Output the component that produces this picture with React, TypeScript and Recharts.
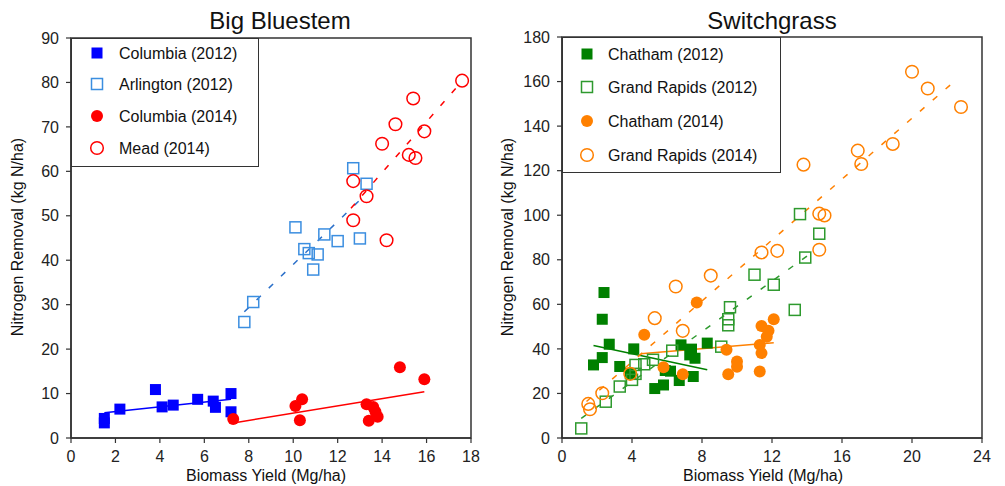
import React from "react";
import {
  ScatterChart,
  Scatter,
  XAxis,
  YAxis,
  ReferenceLine,
  ReferenceArea,
} from "recharts";

// ---------- Big Bluestem ----------
const columbia2012X = [1.5, 1.5, 2.2, 3.8, 4.1, 4.6, 5.7, 6.4, 6.5, 7.2, 7.2];
const columbia2012Y = [4.4, 3.4, 6.5, 10.9, 7.0, 7.4, 8.7, 8.3, 6.9, 10.0, 5.9];
const arlington2012X = [7.8, 8.2, 10.1, 10.5, 10.7, 11.1, 10.9, 11.4, 12.0, 13.0, 12.7, 13.3];
const arlington2012Y = [26.1, 30.6, 47.4, 42.5, 41.6, 41.3, 37.9, 45.8, 44.3, 44.9, 60.7, 57.2];
const columbia2014X = [7.3, 10.1, 10.4, 10.3, 13.3, 13.6, 13.7, 13.8, 13.4, 14.8, 15.9];
const columbia2014Y = [4.3, 7.2, 8.7, 4.0, 7.6, 7.0, 5.9, 4.8, 3.9, 15.9, 13.2];
const mead2014X = [17.6, 15.4, 14.6, 15.9, 14.0, 15.2, 15.5, 12.7, 13.3, 12.7, 14.2];
const mead2014Y = [80.4, 76.4, 70.6, 69.0, 66.2, 63.7, 63.0, 57.8, 54.4, 49.0, 44.5];

// trend line endpoints [x1, y1, x2, y2]
const columbia2012Trend = [1.5, 5.7, 7.2, 8.7];
const arlington2012Trend = [7.8, 28.4, 13.3, 55.0];
const columbia2014Trend = [7.3, 3.4, 15.9, 10.4];
const mead2014Trend = [12.6, 51.7, 17.6, 80.3];

const bbXTicks = [0, 2, 4, 6, 8, 10, 12, 14, 16, 18];
const bbYTicks = [0, 10, 20, 30, 40, 50, 60, 70, 80, 90];

// ---------- Switchgrass ----------
const chatham2012X = [2.4, 2.3, 2.7, 2.3, 1.8, 3.3, 4.1, 3.9, 5.9, 6.2, 6.7, 6.8, 7.4, 7.3, 7.6, 7.5, 5.3, 5.8, 8.3];
const chatham2012Y = [65.3, 53.3, 42.1, 36.1, 32.8, 32.1, 40.0, 28.8, 30.3, 30.0, 25.8, 41.8, 39.9, 37.3, 35.8, 27.6, 22.2, 23.8, 42.6];
const grandRapids2012X = [1.1, 2.5, 3.3, 4.0, 4.2, 4.2, 4.7, 5.2, 6.3, 9.1, 9.5, 9.5, 9.6, 11.0, 12.1, 13.3, 13.9, 14.7, 13.6];
const grandRapids2012Y = [4.3, 16.3, 23.1, 26.1, 28.8, 32.8, 33.1, 35.1, 39.2, 41.0, 50.6, 53.3, 58.7, 73.3, 68.8, 57.5, 81.0, 91.7, 100.5];
const chatham2014X = [4.7, 5.8, 6.9, 7.7, 9.4, 9.5, 10.0, 10.0, 12.1, 11.4, 11.8, 11.7, 11.3, 11.4, 11.3];
const chatham2014Y = [46.3, 31.8, 28.6, 60.8, 39.6, 28.6, 34.3, 32.0, 53.3, 50.3, 48.1, 45.5, 41.8, 38.1, 29.8];
const grandRapids2014X = [1.5, 1.6, 2.3, 3.9, 5.3, 6.5, 6.9, 8.5, 11.4, 12.3, 14.7, 13.8, 14.7, 15.0, 16.9, 17.1, 18.9, 20.0, 20.9, 22.8];
const grandRapids2014Y = [15.3, 12.9, 20.1, 28.8, 53.8, 68.0, 48.1, 72.9, 83.3, 84.0, 84.5, 122.7, 100.7, 99.9, 129.0, 123.0, 132.0, 164.4, 156.9, 148.6];

const chatham2012Trend = [1.8, 41.5, 8.3, 30.6];
const grandRapids2012Trend = [1.1, 8.8, 14.5, 84.5];
const chatham2014Trend = [4.5, 37.8, 12.1, 42.8];
const grandRapids2014Trend = [1.4, 16.4, 22.6, 161.3];

const sgXTicks = [0, 4, 8, 12, 16, 20, 24];
const sgYTicks = [0, 20, 40, 60, 80, 100, 120, 140, 160, 180];

const toPts = (xs: number[], ys: number[]) => xs.map((x, i) => ({ x, y: ys[i] }));

const BLUE = "#0000ff";
const LIGHTBLUE = "#3b8ee0";
const RED = "#ff0000";
const GREEN = "#008000";
const LIGHTGREEN = "#2e9a2e";
const ORANGE = "#ff8000";
const AXIS = "#333";
const FONT = "'Liberation Sans', Arial, Helvetica, sans-serif";

type Kind = "fsq" | "osq" | "fci" | "oci";

const Marker = ({ kind, color, cx, cy }: { kind: Kind; color: string; cx: number; cy: number }) => {
  if (kind === "fsq") return <rect x={cx - 5.5} y={cy - 5.5} width={11} height={11} fill={color} />;
  if (kind === "osq")
    return <rect x={cx - 5.5} y={cy - 5.5} width={11} height={11} fill="none" stroke={color} strokeWidth={1.5} />;
  if (kind === "fci") return <circle cx={cx} cy={cy} r={6} fill={color} />;
  return <circle cx={cx} cy={cy} r={6.3} fill="none" stroke={color} strokeWidth={1.5} />;
};

const shapeOf = (kind: Kind, color: string) => (p: any) =>
  <Marker kind={kind} color={color} cx={p.cx} cy={p.cy} />;

const seg = (t: number[]) => [
  { x: t[0], y: t[1] },
  { x: t[2], y: t[3] },
];

type SeriesDef = { name: string; xs: number[]; ys: number[]; kind: Kind; color: string; trend: number[]; dashed: boolean };

const bbSeries: SeriesDef[] = [
  { name: "Columbia (2012)", xs: columbia2012X, ys: columbia2012Y, kind: "fsq", color: BLUE, trend: columbia2012Trend, dashed: false },
  { name: "Arlington (2012)", xs: arlington2012X, ys: arlington2012Y, kind: "osq", color: LIGHTBLUE, trend: arlington2012Trend, dashed: true },
  { name: "Columbia (2014)", xs: columbia2014X, ys: columbia2014Y, kind: "fci", color: RED, trend: columbia2014Trend, dashed: false },
  { name: "Mead (2014)", xs: mead2014X, ys: mead2014Y, kind: "oci", color: RED, trend: mead2014Trend, dashed: true },
];

const sgSeries: SeriesDef[] = [
  { name: "Chatham (2012)", xs: chatham2012X, ys: chatham2012Y, kind: "fsq", color: GREEN, trend: chatham2012Trend, dashed: false },
  { name: "Grand Rapids (2012)", xs: grandRapids2012X, ys: grandRapids2012Y, kind: "osq", color: LIGHTGREEN, trend: grandRapids2012Trend, dashed: true },
  { name: "Chatham (2014)", xs: chatham2014X, ys: chatham2014Y, kind: "fci", color: ORANGE, trend: chatham2014Trend, dashed: false },
  { name: "Grand Rapids (2014)", xs: grandRapids2014X, ys: grandRapids2014Y, kind: "oci", color: ORANGE, trend: grandRapids2014Trend, dashed: true },
];

const Panel = ({
  series,
  xMax,
  yMax,
  xTicks,
  yTicks,
  width,
  margin,
}: {
  series: SeriesDef[];
  xMax: number;
  yMax: number;
  xTicks: number[];
  yTicks: number[];
  width: number;
  margin: { top: number; right: number; bottom: number; left: number };
}) => (
  <ScatterChart width={width} height={486} margin={margin}>
    <XAxis
      type="number"
      dataKey="x"
      domain={[0, xMax]}
      ticks={xTicks}
      interval={0}
      allowDataOverflow
      height={30}
      tickSize={5}
      tickMargin={8}
      stroke={AXIS}
      axisLine={{ stroke: AXIS, strokeWidth: 1.5 }}
      tickLine={{ stroke: AXIS, strokeWidth: 1.2 }}
      tick={{ fontSize: 16, fill: "#222" }}
    />
    <YAxis
      type="number"
      dataKey="y"
      domain={[0, yMax]}
      ticks={yTicks}
      interval={0}
      allowDataOverflow
      width={40}
      tickSize={5}
      tickMargin={7}
      stroke={AXIS}
      axisLine={{ stroke: AXIS, strokeWidth: 1.5 }}
      tickLine={{ stroke: AXIS, strokeWidth: 1.2 }}
      tick={{ fontSize: 16, fill: "#222" }}
    />
    <ReferenceArea x1={0} x2={xMax} y1={0} y2={yMax} fill="none" fillOpacity={0} stroke={AXIS} strokeWidth={1.5} />
    {series.map((s) => (
      <Scatter
        key={s.name}
        name={s.name}
        data={toPts(s.xs, s.ys)}
        shape={shapeOf(s.kind, s.color)}
        isAnimationActive={false}
      />
    ))}
    {series.map((s) => (
      <ReferenceLine
        key={s.name + "-trend"}
        segment={seg(s.trend)}
        stroke={s.color === LIGHTBLUE ? "#2a6fc9" : s.color}
        strokeWidth={1.5}
        strokeDasharray={s.dashed ? "6 11" : undefined}
      />
    ))}
  </ScatterChart>
);

const LegendBox = ({
  series,
  left,
  top,
  w,
  h,
  markerX,
  textX,
  rowYs,
}: {
  series: SeriesDef[];
  left: number;
  top: number;
  w: number;
  h: number;
  markerX: number;
  textX: number;
  rowYs: number[];
}) => (
  <div
    style={{
      position: "absolute",
      left,
      top,
      width: w,
      height: h,
      boxSizing: "border-box",
      border: `1.5px solid ${AXIS}`,
      background: "#fff",
    }}
  >
    <svg width={w} height={h} style={{ position: "absolute", left: -1.5, top: -1.5 }}>
      {series.map((s, i) => (
        <g key={s.name}>
          <Marker kind={s.kind} color={s.color} cx={markerX} cy={rowYs[i]} />
          <text x={textX} y={rowYs[i] + 5.8} fontSize={16} fill="#111" fontFamily={FONT}>
            {s.name}
          </text>
        </g>
      ))}
    </svg>
  </div>
);

const abs = (extra: React.CSSProperties): React.CSSProperties => ({ position: "absolute", whiteSpace: "nowrap", ...extra });

export default function App() {
  return (
    <div style={{ position: "absolute", left: 0, top: 0, width: 1005, height: 486, background: "#fff", fontFamily: FONT, color: "#111" }}>
      <div style={abs({ left: 0, top: 0 })}>
        <Panel
          series={bbSeries}
          xMax={18}
          yMax={90}
          xTicks={bbXTicks}
          yTicks={bbYTicks}
          width={500}
          margin={{ top: 38, right: 29, bottom: 18, left: 31 }}
        />
      </div>
      <div style={abs({ left: 500, top: 0 })}>
        <Panel
          series={sgSeries}
          xMax={24}
          yMax={180}
          xTicks={sgXTicks}
          yTicks={sgYTicks}
          width={505}
          margin={{ top: 37, right: 23, bottom: 18, left: 22 }}
        />
      </div>

      <LegendBox series={bbSeries} left={71} top={38} w={188} h={129} markerX={26} textX={48} rowYs={[15, 46, 78, 110]} />
      <LegendBox series={sgSeries} left={562} top={37} w={219} h={136} markerX={25} textX={46} rowYs={[17, 50, 84, 118]} />

      <div style={abs({ left: 280, top: 7, transform: "translateX(-50%)", fontSize: 24, lineHeight: "28px" })}>Big Bluestem</div>
      <div style={abs({ left: 772, top: 7, transform: "translateX(-50%)", fontSize: 24, lineHeight: "28px" })}>Switchgrass</div>

      <div style={abs({ left: 266, top: 466, transform: "translateX(-50%)", fontSize: 16, lineHeight: "20px" })}>Biomass Yield (Mg/ha)</div>
      <div style={abs({ left: 763, top: 466, transform: "translateX(-50%)", fontSize: 16, lineHeight: "20px" })}>Biomass Yield (Mg/ha)</div>

      <div style={abs({ left: 18, top: 237, transform: "translate(-50%, -50%) rotate(-90deg)", fontSize: 16, lineHeight: "20px" })}>
        Nitrogen Removal (kg N/ha)
      </div>
      <div style={abs({ left: 508, top: 237, transform: "translate(-50%, -50%) rotate(-90deg)", fontSize: 16, lineHeight: "20px" })}>
        Nitrogen Removal (kg N/ha)
      </div>
    </div>
  );
}
